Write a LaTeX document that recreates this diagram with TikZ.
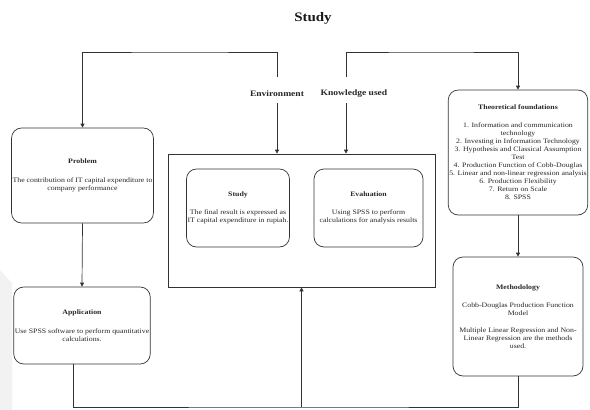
\documentclass[tikz,border=0pt]{standalone}
\usepackage{fontspec}
\setmainfont{Liberation Serif}[FakeStretch=1.15]
\usetikzlibrary{arrows.meta,calc}
\begin{document}
\begin{tikzpicture}[x=1pt,y=-1pt,
  ln/.style={draw=black!80, line width=0.7pt},
  arr/.style={ln, -{Triangle[length=4pt,width=4pt]}},
  rbox/.style={draw=black!80, line width=0.7pt, rounded corners=10pt, align=center,
    inner sep=1pt, font=\fontsize{6.8}{8}\selectfont, text=black!85},
  lbl/.style={font=\fontsize{8.3}{10}\selectfont\bfseries, text=black!85, inner sep=0pt}]
\useasboundingbox (0,0) rectangle (590,410);
\fill[gray!10] (0,270) -- (12,283) -- (12,410) -- (0,410) -- cycle;

\node[font=\fontsize{13}{15}\selectfont\bfseries, text=black!90] (title) at (313,18) {Study};

\node[draw=black!80, line width=0.7pt, minimum width=267pt, minimum height=133pt, inner sep=0pt] (big) at (301.5,220.5) {};

\node[rbox, minimum width=141pt, minimum height=95pt] (problem) at (82.5,175.5)
  {\textbf{Problem}\\[11pt]The contribution of IT capital expenditure to\\company performance};
\node[rbox, minimum width=134pt, minimum height=77pt] (app) at (82,325.5)
  {\textbf{Application}\\[11pt]Use SPSS software to perform quantitative\\calculations.};
\node[rbox, minimum width=102pt, minimum height=78pt] (study) at (238,208)
  {\textbf{Study}\\[10pt]The final result is expressed as\\IT capital expenditure in rupiah.};
\node[rbox, minimum width=109pt, minimum height=78pt] (eval) at (368.5,208)
  {\textbf{Evaluation}\\[10pt]Using SPSS to perform\\calculations for analysis results};
\node[rbox, minimum width=138pt, minimum height=125pt] (theo) at (518,152.5)
  {\textbf{Theoretical foundations}\\[10pt]1. Information and communication\\technology\\
   2. Investing in Information Technology\\3. Hypothesis and Classical Assumption\\Test\\
   4. Production Function of Cobb-Douglas\\5. Linear and non-linear regression analysis\\
   6. Production Flexibility\\7. Return on Scale\\8. SPSS};
\node[rbox, minimum width=130pt, minimum height=119pt] (meth) at (518,316.5)
  {\textbf{Methodology}\\[10pt]Cobb-Douglas Production Function\\Model\\[9pt]
   Multiple Linear Regression and Non-\\Linear Regression are the methods\\used.};

\node[lbl] (envl) at (277,94) {Environment};
\node[lbl] (knl) at (354,94) {Knowledge used};
\coordinate (knx) at (346,94);

\coordinate (topL) at (180,52);
\coordinate (topR) at (430,52);
\coordinate (bot) at (301.5,407);

\draw[arr] ($(envl.center)+(0,-17)$) |- (topL) -| (problem.north);
\draw[arr] ($(envl.center)+(0,9)$) -- (envl.center |- big.north);
\draw[arr] ($(knx)+(0,-17)$) |- (topR) -| (theo.north);
\draw[arr] ($(knx)+(0,9)$) -- (knx |- big.north);
\draw[arr] (problem.south) -- (app.north);
\draw[arr] (theo.south) -- (meth.north);
\draw[ln] ($(app.south)+(-9,0)$) |- (bot) -| (meth.south);
\draw[arr] (bot) -- (big.south);
\end{tikzpicture}
\end{document}
